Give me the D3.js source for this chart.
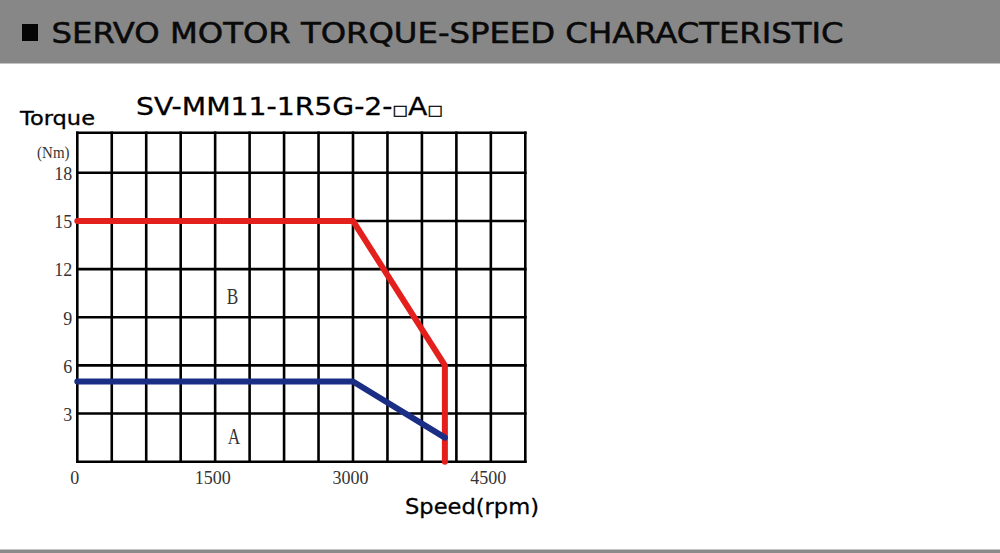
<!DOCTYPE html>
<html>
<head>
<meta charset="utf-8">
<script src="https://cdn.jsdelivr.net/npm/d3@7/dist/d3.min.js"></script>
<style>
  html, body { margin: 0; padding: 0; background: #ffffff; }
  svg { display: block; }
</style>
</head>
<body>
<svg id="chart" width="1000" height="553"></svg>
<script>
// ---- data ----
const pageTitle = "SERVO MOTOR TORQUE-SPEED CHARACTERISTIC";
const modelParts = ["SV-MM11-1R5G-2-", "□", "A", "□"];
const yAxisTitle = "Torque";
const yAxisUnit = "(Nm)";
const xAxisTitle = "Speed(rpm)";

const speedTicks = [0, 1500, 3000, 4500];
const torqueTicks = [3, 6, 9, 12, 15, 18];
const speedMax = 4875;      // 13 grid cells of 375 rpm
const speedStep = 375;
const torqueMax = 20.5;
const torqueStep = 3;

// Curve B (peak / intermittent) - red
const curveBSpeed  = [0, 3000, 4000, 4000];
const curveBTorque = [15, 15, 6, 0];
// Curve A (rated / continuous) - blue
const curveASpeed  = [0, 3000, 4000];
const curveATorque = [5, 5, 1.5];

const regionNames  = ["B", "A"];
const regionSpeed  = [1690, 1705];
const regionTorque = [9.8, 1.1];

// ---- layout ----
const svg = d3.select("#chart");
const W = 1000, H = 553;
const plot = { left: 77.3, right: 525.3, top: 132.7, bottom: 461.7 };

const x = d3.scaleLinear().domain([0, speedMax]).range([plot.left, plot.right]);
const y = d3.scaleLinear().domain([0, torqueMax]).range([plot.bottom, plot.top]);

// header band
svg.append("rect").attr("x", 0).attr("y", 0).attr("width", W).attr("height", 63.5).attr("fill", "#878787");
svg.append("rect").attr("x", 22).attr("y", 24).attr("width", 16).attr("height", 17).attr("fill", "#050505");
svg.append("text")
  .attr("x", 51.5).attr("y", 43)
  .attr("font-family", "DejaVu Sans Condensed, DejaVu Sans, sans-serif")
  .attr("font-stretch", "condensed")
  .attr("font-size", 29)
  .attr("fill", "#0a0a0a")
  .attr("stroke", "#0a0a0a").attr("stroke-width", 0.5)
  .attr("textLength", 792).attr("lengthAdjust", "spacingAndGlyphs")
  .text(pageTitle);

// bottom rule
svg.append("rect").attr("x", 0).attr("y", 549.5).attr("width", W).attr("height", 3.5).attr("fill", "#8a8a8a");

// model subtitle
const sub = svg.append("text")
  .attr("x", 136).attr("y", 114.5)
  .attr("font-family", "DejaVu Sans, sans-serif")
  .attr("font-size", 24)
  .attr("fill", "#000")
  .attr("stroke", "#000").attr("stroke-width", 0.3)
  .attr("textLength", 307).attr("lengthAdjust", "spacingAndGlyphs");
modelParts.forEach(p => {
  sub.append("tspan").attr("font-size", p === "□" ? 14 : 24).text(p);
});

// axis titles
svg.append("text")
  .attr("x", 20).attr("y", 125)
  .attr("font-family", "DejaVu Sans, sans-serif")
  .attr("font-size", 20)
  .attr("fill", "#000")
  .attr("stroke", "#000").attr("stroke-width", 0.3)
  .attr("textLength", 75).attr("lengthAdjust", "spacingAndGlyphs")
  .text(yAxisTitle);

svg.append("text")
  .attr("transform", "translate(69.5,158) scale(0.88,1)")
  .attr("text-anchor", "end")
  .attr("font-family", "Liberation Serif, serif")
  .attr("font-size", 17)
  .attr("fill", "#333")
  .text(yAxisUnit);

svg.append("text")
  .attr("x", 405).attr("y", 514)
  .attr("font-family", "DejaVu Sans, sans-serif")
  .attr("font-size", 21)
  .attr("fill", "#000")
  .attr("stroke", "#000").attr("stroke-width", 0.3)
  .attr("textLength", 134).attr("lengthAdjust", "spacingAndGlyphs")
  .text(xAxisTitle);

// grid
const gridX = d3.range(0, speedMax + 1, speedStep);
const gridY = d3.range(0, 18 + 1, torqueStep).concat([torqueMax]);

const grid = svg.append("g").attr("stroke", "#000").attr("stroke-width", 2.6).attr("fill", "none");
grid.selectAll("line.v").data(gridX).join("line")
  .attr("class", "v")
  .attr("x1", d => x(d)).attr("x2", d => x(d))
  .attr("y1", y(0) + 1.3).attr("y2", y(torqueMax) - 1.3);
grid.selectAll("line.h").data(gridY).join("line")
  .attr("class", "h")
  .attr("x1", x(0) - 1.3).attr("x2", x(speedMax) + 1.3)
  .attr("y1", d => y(d)).attr("y2", d => y(d));

// tick labels via axes (no lines)
const xAxis = d3.axisBottom(x).tickValues(speedTicks).tickSize(0).tickPadding(0).tickFormat(d3.format("d"));
const xg = svg.append("g").attr("transform", `translate(-3,${plot.bottom + 10})`).call(xAxis);
xg.select(".domain").remove();
xg.selectAll("text")
  .attr("font-family", "Liberation Serif, serif")
  .attr("font-size", 18)
  .attr("fill", "#333")
  .attr("dy", "0.71em");

const yAxis = d3.axisLeft(y).tickValues(torqueTicks).tickSize(0).tickPadding(0).tickFormat(d3.format("d"));
const yg = svg.append("g").attr("transform", `translate(${plot.left - 5},0)`).call(yAxis);
yg.select(".domain").remove();
yg.selectAll("text")
  .attr("font-family", "Liberation Serif, serif")
  .attr("font-size", 18)
  .attr("fill", "#333")
  .attr("dy", "0.38em");

// curves
const line = d3.line().x(d => x(d[0])).y(d => y(d[1]));
const curveB = curveBSpeed.map((s, i) => [s, curveBTorque[i]]);
const curveA = curveASpeed.map((s, i) => [s, curveATorque[i]]);

svg.append("path").datum(curveB).attr("d", line)
  .attr("fill", "none").attr("stroke", "#e4201c").attr("stroke-width", 6)
  .attr("stroke-linecap", "round").attr("stroke-linejoin", "round");
svg.append("path").datum(curveA).attr("d", line)
  .attr("fill", "none").attr("stroke", "#1b2e86").attr("stroke-width", 6)
  .attr("stroke-linecap", "round").attr("stroke-linejoin", "round");

// region labels
regionNames.forEach((n, i) => {
  svg.append("text")
    .attr("transform", `translate(${x(regionSpeed[i])},${y(regionTorque[i])}) scale(0.72,1)`)
    .attr("text-anchor", "middle")
    .attr("font-family", "Liberation Serif, serif")
    .attr("font-size", 24)
    .attr("fill", "#333")
    .text(n);
});
</script>
</body>
</html>
